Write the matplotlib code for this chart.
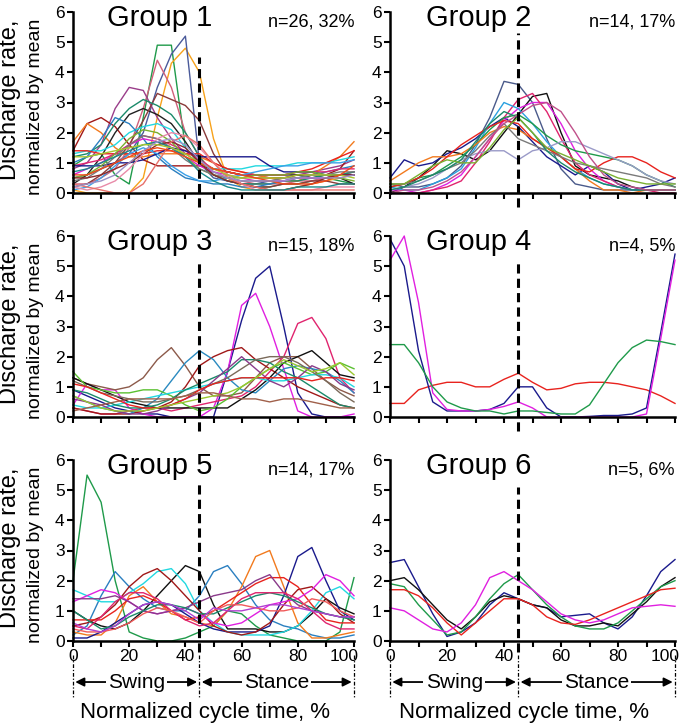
import numpy as np
import matplotlib
matplotlib.use("Agg")
import matplotlib.pyplot as plt
import matplotlib.transforms as mtransforms

plt.rcParams['font.family'] = ['Liberation Sans', 'DejaVu Sans']

# cycle time, % (sample points)
cycle = [0, 5, 10, 15, 20, 25, 30, 35, 40, 45, 50, 55, 60, 65, 70, 75, 80, 85, 90, 95, 100]

titles = ["Group 1", "Group 2", "Group 3", "Group 4", "Group 5", "Group 6"]
counts = ["n=26, 32%", "n=14, 17%", "n=15, 18%", "n=4, 5%", "n=14, 17%", "n=5, 6%"]
swing_end = 45

# Group 1
g1_lines = [
    [0.9, 1.2, 1.3, 0.6, 0.3, 2.5, 4.9, 4.9, 1.5, 1.0, 0.6, 0.4, 0.3, 0.2, 0.2, 0.3, 0.3, 0.4, 0.5, 0.4, 0.3],
    [0.1, 0.0, 0.0, 0.0, 0.0, 0.5, 2.5, 4.3, 4.8, 4.0, 1.8, 0.5, 0.2, 0.1, 0.1, 0.1, 0.2, 0.3, 0.4, 0.5, 0.6],
    [0.5, 0.6, 0.8, 1.0, 1.3, 2.0, 3.5, 4.6, 5.2, 1.0, 0.5, 0.4, 0.3, 0.3, 0.4, 0.4, 0.5, 0.5, 0.5, 0.6, 0.7],
    [0.3, 0.3, 0.5, 0.8, 1.5, 2.8, 4.4, 3.5, 2.0, 1.2, 0.7, 0.5, 0.4, 0.3, 0.3, 0.3, 0.4, 0.4, 0.5, 0.6, 0.7],
    [0.8, 1.0, 1.6, 2.8, 3.5, 3.4, 2.5, 1.8, 1.3, 1.0, 0.8, 0.7, 0.6, 0.6, 0.5, 0.5, 0.6, 0.7, 0.8, 0.9, 1.1],
    [1.4, 2.3, 2.5, 2.2, 1.6, 1.1, 0.9, 0.9, 0.9, 0.9, 0.8, 0.7, 0.6, 0.5, 0.5, 0.5, 0.6, 0.6, 0.6, 0.8, 1.4],
    [1.7, 2.3, 2.0, 1.5, 1.2, 1.2, 1.3, 1.3, 1.3, 1.2, 1.0, 0.8, 0.7, 0.6, 0.5, 0.4, 0.4, 0.6, 0.9, 1.2, 1.7],
    [0.3, 0.6, 1.2, 2.0, 2.6, 2.8, 2.6, 2.3, 1.7, 1.0, 0.8, 0.7, 0.6, 0.6, 0.6, 0.6, 0.6, 0.5, 0.6, 0.5, 0.3],
    [0.2, 0.3, 0.6, 1.0, 1.6, 2.4, 3.3, 3.1, 2.9, 2.4, 1.3, 0.6, 0.3, 0.2, 0.2, 0.3, 0.3, 0.4, 0.4, 0.3, 0.3],
    [1.2, 1.3, 1.6, 2.3, 2.8, 3.1, 2.9, 2.6, 2.0, 1.2, 0.6, 0.4, 0.3, 0.3, 0.3, 0.4, 0.4, 0.5, 0.6, 0.6, 0.7],
    [1.3, 1.4, 1.4, 1.6, 2.0, 2.2, 2.3, 2.1, 1.5, 1.0, 0.8, 0.8, 0.8, 0.9, 0.9, 0.9, 1.0, 1.0, 1.0, 1.1, 1.2],
    [1.0, 1.2, 1.8, 2.5, 2.3, 1.8, 1.2, 0.8, 0.5, 0.4, 0.3, 0.3, 0.2, 0.2, 0.3, 0.4, 0.5, 0.6, 0.7, 0.8, 0.9],
    [1.4, 1.4, 1.3, 1.3, 1.3, 1.3, 1.4, 1.4, 1.3, 1.3, 1.0, 0.8, 0.7, 0.6, 0.6, 0.6, 0.7, 0.8, 1.0, 1.2, 1.4],
    [0.6, 0.8, 1.0, 1.3, 1.6, 1.8, 1.7, 1.5, 1.2, 0.9, 0.7, 0.6, 0.5, 0.4, 0.4, 0.4, 0.5, 0.5, 0.5, 0.6, 0.6],
    [0.9, 1.0, 1.1, 1.3, 1.6, 1.9, 1.8, 1.6, 1.4, 1.1, 0.8, 0.7, 0.6, 0.6, 0.6, 0.6, 0.7, 0.7, 0.7, 0.8, 0.8],
    [0.9, 0.9, 0.9, 1.0, 1.0, 1.1, 1.3, 1.5, 1.4, 1.2, 1.2, 1.2, 1.2, 1.2, 0.9, 0.7, 0.7, 0.7, 0.6, 0.6, 0.6],
    [0.1, 0.2, 0.5, 0.9, 1.3, 1.5, 1.3, 0.9, 0.6, 0.4, 0.4, 0.5, 0.6, 0.7, 0.8, 0.9, 0.9, 1.0, 1.0, 1.0, 1.1],
    [0.5, 0.6, 0.9, 1.3, 1.8, 2.1, 2.0, 1.7, 1.2, 0.8, 0.6, 0.5, 0.5, 0.6, 0.6, 0.6, 0.7, 0.7, 0.6, 0.5, 0.4],
    [0.4, 0.5, 0.8, 1.2, 1.6, 1.9, 1.8, 1.5, 1.1, 0.8, 0.6, 0.5, 0.4, 0.4, 0.4, 0.5, 0.5, 0.6, 0.6, 0.7, 0.7],
    [0.5, 0.5, 0.6, 0.8, 1.0, 1.3, 1.6, 1.7, 1.5, 1.0, 0.6, 0.4, 0.3, 0.2, 0.1, 0.1, 0.2, 0.3, 0.5, 0.6, 0.6],
    [0.2, 0.1, 0.2, 0.4, 0.8, 1.3, 1.8, 2.0, 1.9, 1.5, 1.0, 0.6, 0.3, 0.1, 0.1, 0.1, 0.1, 0.1, 0.2, 0.2, 0.2],
    [0.3, 0.2, 0.1, 0.0, 0.0, 0.3, 1.0, 1.7, 1.9, 1.6, 1.0, 0.5, 0.3, 0.2, 0.1, 0.1, 0.1, 0.1, 0.1, 0.1, 0.1],
    [0.7, 0.8, 1.0, 1.2, 1.4, 1.6, 1.7, 1.5, 1.2, 0.7, 0.4, 0.2, 0.1, 0.1, 0.1, 0.1, 0.2, 0.2, 0.2, 0.3, 0.3],
    [1.2, 1.2, 1.3, 1.4, 1.5, 1.6, 1.6, 1.5, 1.3, 1.0, 0.8, 0.6, 0.5, 0.5, 0.5, 0.5, 0.6, 0.6, 0.6, 0.6, 0.5],
    [0.6, 0.6, 0.8, 1.0, 1.2, 1.4, 1.5, 1.4, 1.2, 1.0, 0.8, 0.7, 0.6, 0.5, 0.4, 0.3, 0.3, 0.3, 0.4, 0.6, 0.9],
    [0.2, 0.3, 0.4, 0.6, 1.0, 1.4, 1.7, 1.8, 1.6, 1.1, 0.7, 0.5, 0.4, 0.4, 0.4, 0.4, 0.5, 0.5, 0.5, 0.5, 0.6],
]
g1_colors = ["#1f9a4a", "#f7a21b", "#4a5a9a", "#d0607a", "#9a3d8a", "#a01818",
             "#f27a1e", "#202020", "#8a3a3a", "#1a8a6a", "#22d8e0", "#2a7fc0",
             "#e8231e", "#e020d0", "#e0246e", "#1a1a8c", "#3aa0e8", "#7ab030",
             "#7a7a7a", "#8c2a2a", "#e88aa8", "#e8706a", "#1a8a8a", "#a8c830",
             "#f04a1a", "#9a90c8"]

# Group 2
g2_lines = [
    [0.3, 0.2, 0.2, 0.3, 0.5, 0.9, 1.6, 2.5, 3.7, 3.6, 3.0, 1.8, 0.8, 0.3, 0.2, 0.1, 0.1, 0.1, 0.1, 0.1, 0.1],
    [0.0, 0.2, 0.5, 0.9, 1.4, 1.3, 1.1, 1.4, 2.0, 2.6, 3.2, 3.3, 2.0, 0.9, 0.6, 0.5, 0.4, 0.2, 0.1, 0.1, 0.1],
    [0.5, 1.1, 0.9, 1.0, 1.3, 1.5, 1.8, 2.2, 2.5, 2.2, 1.7, 1.2, 0.9, 0.6, 0.9, 0.7, 0.3, 0.1, 0.2, 0.3, 0.5],
    [0.1, 0.1, 0.0, 0.1, 0.3, 0.6, 1.2, 1.8, 2.4, 2.8, 3.0, 3.0, 2.3, 1.4, 0.8, 0.4, 0.2, 0.1, 0.1, 0.1, 0.1],
    [0.0, 0.0, 0.0, 0.1, 0.2, 0.4, 1.0, 1.7, 2.5, 3.1, 3.3, 2.7, 1.8, 1.0, 0.6, 0.4, 0.2, 0.1, 0.1, 0.0, 0.0],
    [0.2, 0.1, 0.1, 0.3, 0.5, 0.8, 1.5, 2.3, 3.0, 2.8, 2.3, 1.7, 1.2, 0.8, 0.5, 0.3, 0.2, 0.1, 0.1, 0.1, 0.1],
    [0.2, 0.3, 0.5, 0.6, 0.9, 1.2, 1.6, 2.1, 2.5, 2.6, 2.3, 1.9, 1.6, 1.4, 1.3, 1.2, 1.1, 0.9, 0.6, 0.4, 0.2],
    [0.4, 0.7, 1.0, 1.2, 1.2, 1.3, 1.6, 2.0, 2.2, 2.1, 1.8, 1.5, 1.2, 0.8, 0.4, 0.1, 0.1, 0.0, 0.1, 0.1, 0.1],
    [0.2, 0.3, 0.5, 0.8, 1.2, 1.6, 1.9, 2.2, 2.4, 2.3, 1.8, 1.5, 1.2, 0.8, 0.7, 1.0, 1.2, 1.2, 1.0, 0.7, 0.5],
    [0.1, 0.2, 0.3, 0.5, 0.8, 1.1, 1.3, 1.4, 1.4, 1.1, 1.4, 1.5, 1.7, 1.7, 1.5, 1.3, 1.1, 0.9, 0.6, 0.4, 0.3],
    [0.3, 0.3, 0.4, 0.6, 0.8, 1.0, 1.4, 1.9, 2.3, 1.8, 1.6, 1.4, 1.2, 1.0, 0.9, 0.8, 0.7, 0.6, 0.5, 0.3, 0.2],
    [0.1, 0.2, 0.4, 0.6, 0.8, 1.1, 1.7, 2.3, 2.7, 2.5, 2.0, 1.4, 1.0, 0.7, 0.5, 0.3, 0.2, 0.1, 0.1, 0.1, 0.1],
    [0.0, 0.1, 0.1, 0.2, 0.4, 0.7, 1.2, 1.8, 2.3, 2.6, 2.9, 3.0, 2.7, 2.0, 1.2, 0.6, 0.3, 0.2, 0.1, 0.1, 0.1],
    [0.3, 0.3, 0.6, 0.9, 1.1, 1.0, 1.0, 1.5, 2.1, 2.5, 2.0, 1.5, 1.3, 1.1, 0.9, 0.7, 0.5, 0.4, 0.3, 0.3, 0.3],
]
g2_colors = ["#4a5a8a", "#101010", "#1a1a8c", "#e020e0", "#e0246e", "#2aa0e0",
             "#1f9a4a", "#f27a1e", "#e8231e", "#9a9ac8", "#7a7a7a", "#1a8a6a",
             "#c0508a", "#7ab030"]

# Group 3
g3_lines = [
    [0.9, 0.7, 0.5, 0.3, 0.2, 0.1, 0.1, 0.0, 0.0, 0.0, 0.0, 1.5, 3.2, 4.6, 5.0, 3.0, 0.8, 0.1, 0.0, 0.0, 0.0],
    [0.4, 1.1, 0.9, 0.9, 0.3, 0.1, 0.0, 0.0, 0.0, 0.0, 0.3, 1.5, 3.7, 4.1, 3.0, 1.6, 0.2, 0.0, 0.0, 0.0, 0.1],
    [0.3, 0.2, 0.1, 0.1, 0.2, 0.3, 0.3, 0.2, 0.3, 0.4, 0.5, 0.6, 0.7, 1.0, 1.5, 2.0, 3.1, 3.3, 2.6, 1.3, 0.8],
    [1.3, 1.1, 1.0, 0.9, 1.0, 1.3, 1.9, 2.3, 1.7, 1.0, 0.7, 0.7, 0.8, 1.3, 1.8, 2.0, 2.0, 1.6, 1.2, 0.9, 0.7],
    [0.3, 0.2, 0.1, 0.1, 0.1, 0.2, 0.3, 0.5, 1.0, 1.7, 2.0, 2.2, 2.3, 1.9, 1.6, 1.3, 1.0, 0.8, 0.6, 0.4, 0.3],
    [0.7, 0.5, 0.3, 0.2, 0.1, 0.3, 0.6, 1.2, 1.8, 2.2, 1.9, 1.3, 0.9, 0.8, 1.2, 1.6, 1.7, 1.6, 1.5, 1.2, 0.8],
    [1.3, 1.1, 0.9, 0.7, 0.5, 0.4, 0.3, 0.3, 0.3, 0.3, 0.3, 0.3, 0.6, 0.9, 1.3, 1.8, 2.0, 2.2, 1.8, 1.4, 1.3],
    [1.5, 1.0, 0.9, 0.8, 0.8, 0.9, 0.9, 0.7, 0.4, 0.2, 0.3, 0.6, 1.0, 1.3, 1.6, 1.8, 1.6, 1.4, 1.5, 1.8, 1.6],
    [0.4, 0.3, 0.3, 0.4, 0.5, 0.6, 0.7, 0.8, 0.9, 1.0, 1.1, 1.2, 1.3, 1.3, 1.2, 1.2, 1.3, 1.4, 1.4, 1.3, 1.0],
    [0.9, 0.8, 0.6, 0.4, 0.3, 0.3, 0.4, 0.6, 0.9, 1.1, 1.3, 1.5, 1.9, 1.9, 1.8, 1.5, 1.3, 1.0, 0.7, 0.4, 0.3],
    [1.2, 1.0, 0.8, 0.7, 0.6, 0.5, 0.5, 0.6, 0.7, 0.9, 1.1, 1.3, 1.6, 1.9, 2.0, 2.0, 1.8, 1.5, 1.2, 0.8, 0.5],
    [0.6, 0.5, 0.4, 0.2, 0.1, 0.1, 0.2, 0.4, 0.6, 0.8, 1.2, 1.6, 2.0, 1.6, 1.2, 1.0, 1.3, 1.7, 1.5, 1.1, 0.9],
    [1.1, 1.0, 0.8, 0.6, 0.4, 0.3, 0.3, 0.4, 0.6, 0.9, 1.1, 1.2, 1.3, 1.3, 1.3, 1.3, 1.3, 1.2, 1.3, 1.3, 1.2],
    [0.7, 0.5, 0.3, 0.2, 0.2, 0.2, 0.3, 0.4, 0.5, 0.6, 0.7, 0.8, 1.0, 1.3, 1.6, 1.9, 1.7, 1.5, 1.6, 1.8, 1.4],
    [0.2, 0.3, 0.4, 0.5, 0.6, 0.6, 0.6, 0.6, 0.7, 0.8, 0.8, 0.7, 0.6, 0.6, 0.5, 0.6, 0.6, 0.5, 0.4, 0.3, 0.3],
]
g3_colors = ["#1a1a8c", "#e020e0", "#e0246e", "#8c5a4a", "#a01818", "#2a8ac0",
             "#101010", "#5ac030", "#22d8e0", "#1a8a6a", "#7a6a5a", "#8a3a8a",
             "#e8231e", "#9ac830", "#a0604a"]

# Group 4
g4_lines = [
    [0.45, 0.45, 0.9, 1.05, 1.15, 1.15, 1.0, 1.0, 1.25, 1.45, 1.15, 0.9, 0.95, 1.1, 1.15, 1.15, 1.1, 1.0, 0.9, 0.7, 0.45],
    [5.9, 5.0, 2.2, 0.5, 0.2, 0.2, 0.2, 0.25, 0.45, 1.0, 1.0, 0.3, 0.0, 0.0, 0.02, 0.05, 0.05, 0.1, 0.3, 2.8, 5.4],
    [5.2, 6.0, 3.8, 0.8, 0.25, 0.2, 0.2, 0.25, 0.35, 0.5, 0.3, 0.0, 0.0, 0.0, 0.0, 0.0, 0.0, 0.0, 0.1, 2.6, 5.2],
    [2.4, 2.4, 1.8, 1.0, 0.5, 0.3, 0.2, 0.2, 0.1, 0.2, 0.2, 0.15, 0.1, 0.1, 0.4, 1.1, 1.8, 2.3, 2.55, 2.5, 2.4],
]
g4_colors = ["#e8231e", "#1a1a8c", "#e020e0", "#1f9a4a"]

# Group 5
g5_lines = [
    [2.0, 5.5, 4.6, 2.0, 0.3, 0.1, 0.0, 0.0, 0.1, 0.3, 0.5, 1.0, 0.9, 0.5, 0.2, 0.1, 0.0, 0.0, 0.0, 0.3, 2.1],
    [1.0, 0.7, 0.5, 0.4, 0.6, 1.0, 1.5, 2.0, 2.5, 2.3, 1.2, 0.4, 0.4, 0.4, 0.3, 0.3, 0.5, 0.9, 1.4, 1.1, 0.9],
    [0.2, 0.5, 1.5, 2.3, 1.8, 1.4, 1.1, 1.0, 1.0, 1.5, 2.3, 2.5, 1.9, 1.2, 0.7, 0.5, 0.4, 0.2, 0.1, 0.1, 0.2],
    [0.3, 0.2, 0.2, 0.6, 1.5, 1.8, 1.3, 0.9, 0.8, 0.6, 0.5, 1.0, 1.8, 2.8, 3.0, 1.8, 0.6, 0.1, 0.1, 0.2, 0.3],
    [0.1, 0.1, 0.3, 0.6, 0.9, 1.2, 1.3, 1.2, 0.9, 0.6, 0.4, 0.3, 0.3, 0.3, 0.5, 1.5, 2.8, 3.1, 2.0, 1.0, 0.7],
    [1.7, 1.5, 1.3, 1.3, 1.6, 1.9, 2.3, 2.4, 1.9, 1.0, 0.6, 0.3, 0.2, 0.2, 0.2, 0.3, 0.5, 1.0, 1.6, 1.8, 1.4],
    [0.5, 0.6, 0.8, 1.2, 1.8, 2.2, 2.4, 2.0, 1.5, 1.0, 0.5, 0.3, 0.2, 0.3, 0.6, 1.2, 1.7, 1.8, 1.4, 0.9, 0.6],
    [0.7, 0.7, 0.7, 1.0, 1.4, 1.5, 1.3, 1.0, 0.7, 0.8, 1.0, 1.3, 1.6, 1.9, 2.1, 2.1, 1.8, 1.2, 0.7, 0.6, 0.6],
    [1.3, 1.5, 1.7, 1.6, 1.3, 1.0, 0.9, 1.0, 1.1, 0.9, 0.6, 0.5, 0.6, 0.9, 1.2, 1.3, 1.4, 1.7, 2.2, 2.0, 1.5],
    [1.4, 1.4, 1.4, 1.5, 1.3, 1.0, 0.9, 1.0, 1.1, 1.3, 1.5, 1.6, 1.7, 2.0, 2.2, 1.6, 1.2, 1.0, 0.9, 0.8, 0.8],
    [1.0, 0.7, 0.4, 0.5, 0.8, 1.0, 1.2, 1.2, 1.1, 0.9, 0.9, 1.1, 1.3, 1.5, 1.6, 1.5, 1.3, 1.1, 0.9, 0.8, 0.7],
    [0.5, 0.4, 0.8, 1.3, 1.6, 1.6, 1.4, 1.0, 0.7, 0.5, 0.6, 1.0, 1.4, 1.6, 1.6, 1.6, 1.4, 1.0, 0.6, 0.4, 0.4],
    [0.4, 0.3, 0.3, 0.4, 0.6, 0.9, 1.1, 1.0, 0.8, 0.6, 1.0, 1.2, 1.2, 1.1, 1.0, 1.0, 1.1, 1.4, 1.3, 1.0, 0.8],
    [0.6, 0.4, 0.3, 0.5, 0.9, 1.2, 1.3, 1.2, 1.0, 0.7, 1.1, 1.0, 1.0, 1.1, 1.2, 1.2, 1.1, 1.0, 0.9, 0.8, 0.8],
]
g5_colors = ["#1f9a4a", "#101010", "#2a7fc0", "#f27a1e", "#1a1a8c", "#22d8e0",
             "#a01818", "#e8231e", "#e020e0", "#8a3a8a", "#1a8a6a", "#e0246e",
             "#f05a5a", "#b040d0"]

# Group 6
g6_lines = [
    [2.6, 2.7, 1.8, 0.9, 0.15, 0.3, 0.6, 1.2, 1.6, 1.4, 1.2, 1.1, 0.8, 0.85, 0.9, 0.6, 0.4, 0.8, 1.5, 2.3, 2.7],
    [2.0, 2.1, 1.7, 1.2, 0.7, 0.4, 0.8, 1.3, 1.5, 1.4, 1.2, 1.1, 0.7, 0.5, 0.5, 0.6, 0.5, 0.9, 1.3, 1.8, 2.1],
    [1.9, 1.8, 1.2, 0.7, 0.2, 0.3, 0.8, 1.4, 1.9, 2.2, 1.7, 1.2, 0.8, 0.5, 0.4, 0.4, 0.6, 1.0, 1.4, 1.8, 2.0],
    [1.7, 1.7, 1.5, 1.1, 0.6, 0.2, 0.6, 1.0, 1.4, 1.4, 1.2, 0.8, 0.6, 0.55, 0.7, 0.9, 1.1, 1.3, 1.5, 1.7, 1.75],
    [1.1, 1.0, 0.7, 0.4, 0.3, 0.6, 1.2, 2.1, 2.3, 2.0, 1.7, 1.3, 0.9, 0.7, 0.6, 0.7, 0.9, 1.1, 1.15, 1.2, 1.15],
]
g6_colors = ["#1a1a8c", "#101010", "#1f9a4a", "#e8231e", "#e020e0"]

all_lines = [g1_lines, g2_lines, g3_lines, g4_lines, g5_lines, g6_lines]
all_colors = [g1_colors, g2_colors, g3_colors, g4_colors, g5_colors, g6_colors]
dash_top = [4.5, 5.3, 5.1, 5.2, 5.2, 5.1]

W, H = 682, 728
fig = plt.figure(figsize=(W / 100, H / 100), dpi=100)

col_x = [(73, 281), (390, 285)]
row_y = [(12, 193), (236, 417), (460, 641)]

for i in range(6):
    r, c = i // 2, i % 2
    x0, w = col_x[c]
    top, bot = row_y[r]
    ax = fig.add_axes([x0 / W, 1 - bot / H, w / W, (bot - top) / H])

    for vals, col in zip(all_lines[i], all_colors[i]):
        ax.plot(cycle, vals, color=col, lw=1.0, clip_on=False)

    ax.set_xlim(0, 100)
    ax.set_ylim(0, 6)
    for s in ["top", "right"]:
        ax.spines[s].set_visible(False)
    for s in ["left", "bottom"]:
        ax.spines[s].set_linewidth(1.8)
    ax.set_yticks(range(7))
    ax.set_xticks(range(0, 101, 10))
    ax.tick_params(direction="out", length=4, width=1.5, labelsize=12.5, pad=2)
    if r == 2:
        ax.set_xticklabels([str(v) if v % 20 == 0 else "" for v in range(0, 101, 10)])
        last = ax.get_xticklabels()[-1]
        last.set_horizontalalignment("right")
        last.set_transform(last.get_transform() +
                           mtransforms.ScaledTranslation(5 / 100, 0, fig.dpi_scale_trans))
    else:
        ax.set_xticklabels([])

    bottom_end = -0.45 if r < 2 else -0.35
    ax.plot([swing_end, swing_end], [bottom_end, dash_top[i]], color="black",
            lw=2.2, dashes=(3, 1.7), clip_on=False, zorder=5)

    ax.text(0.31, 0.925, titles[i], transform=ax.transAxes, ha="center",
            va="baseline", fontsize=21)
    ax.text(1.0, 0.922, counts[i], transform=ax.transAxes, ha="right",
            va="baseline", fontsize=13)

    if c == 0:
        yc = 1 - (top + bot) / 2 / H
        fig.text(10 / W, yc + 3 / H, "Discharge rate,", rotation=90,
                 ha="center", va="center", fontsize=17)
        fig.text(36 / W, yc - 4 / H, "normalized by mean", rotation=90,
                 ha="center", va="center", fontsize=14)

    if r == 2:
        for xv in [0, swing_end, 100]:
            ax.plot([xv, xv], [-0.45, -1.85], color="black", lw=0.9,
                    ls=(0, (3, 1.5, 1, 1.5)), clip_on=False)
        for a, b, lab in [(0, swing_end, "Swing"), (swing_end, 100, "Stance")]:
            ax.annotate("", xy=(a + 0.8, -1.36), xytext=(b - 0.8, -1.36),
                        xycoords="data", textcoords="data", annotation_clip=False,
                        arrowprops=dict(arrowstyle="<|-|>", color="black", lw=1.3,
                                        mutation_scale=13, shrinkA=0, shrinkB=0))
            ax.text((a + b) / 2, -1.36, lab, ha="center", va="center", fontsize=15,
                    bbox=dict(facecolor="white", edgecolor="none", pad=1.5))
        ax.text(47, -2.38, "Normalized cycle time, %", ha="center", va="center",
                fontsize=16)

fig.savefig("out.png", dpi=100)
